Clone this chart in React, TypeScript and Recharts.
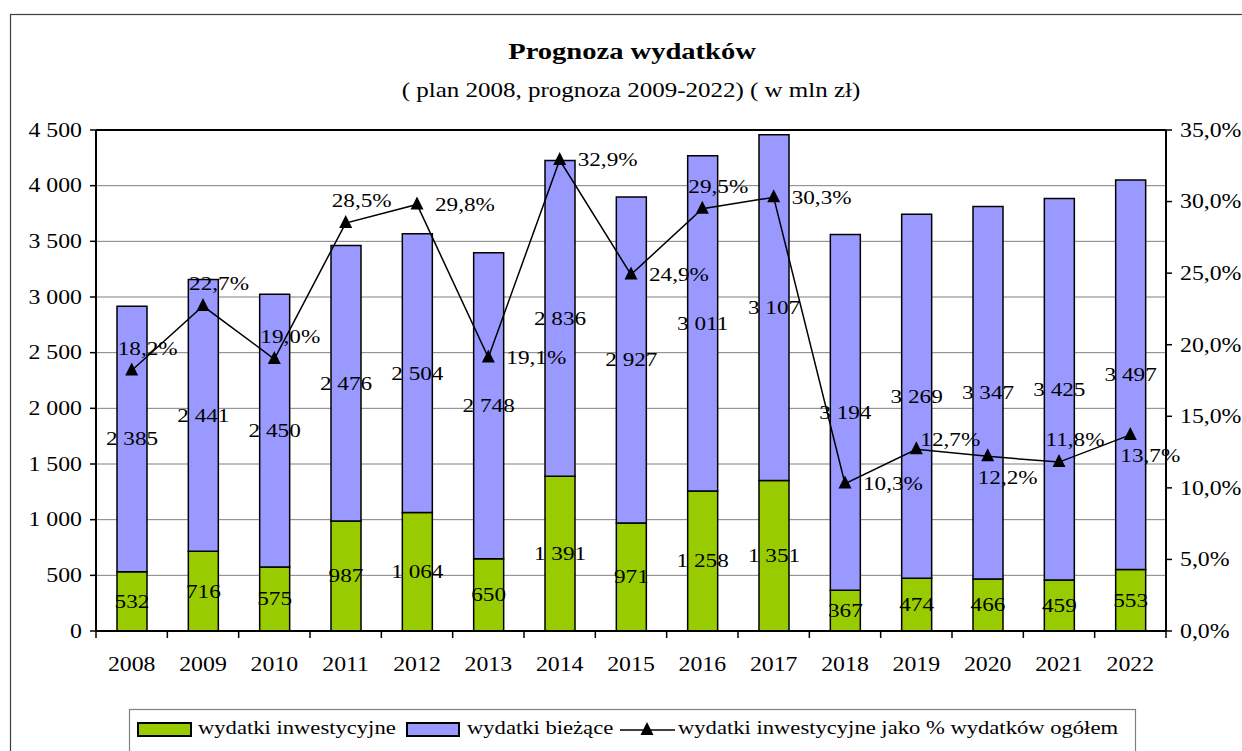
import React from 'react';
import {
  ComposedChart,
  Bar,
  Line,
  XAxis,
  YAxis,
  CartesianGrid,
  LabelList,
  ReferenceLine,
} from 'recharts';

// ---------- data ----------
const years = ['2008', '2009', '2010', '2011', '2012', '2013', '2014', '2015', '2016', '2017', '2018', '2019', '2020', '2021', '2022'];
const investmentSpending = [532, 716, 575, 987, 1064, 650, 1391, 971, 1258, 1351, 367, 474, 466, 459, 553];
const currentSpending = [2385, 2441, 2450, 2476, 2504, 2748, 2836, 2927, 3011, 3107, 3194, 3269, 3347, 3425, 3497];
const investmentShare = [18.2, 22.7, 19.0, 28.5, 29.8, 19.1, 32.9, 24.9, 29.5, 30.3, 10.3, 12.7, 12.2, 11.8, 13.7];
const leftTicks = [0, 500, 1000, 1500, 2000, 2500, 3000, 3500, 4000, 4500];
const rightTicks = [0, 5, 10, 15, 20, 25, 30, 35];
const shareLabelPlacement = ['above', 'above', 'above', 'above', 'right', 'right', 'right', 'right', 'above', 'right', 'right', 'aboveRight', 'below', 'above', 'below'];

const TITLE = 'Prognoza wydatków';
const SUBTITLE = '( plan 2008, prognoza 2009-2022) ( w mln zł)';
const LEGEND_INV = 'wydatki inwestycyjne';
const LEGEND_CUR = 'wydatki bieżące';
const LEGEND_SHARE = 'wydatki inwestycyjne jako % wydatków ogółem';

const data = years.map((year, i) => ({
  year,
  inv: investmentSpending[i],
  cur: currentSpending[i],
  share: investmentShare[i],
}));

// ---------- styles ----------
const FONT = '"Liberation Serif", "Times New Roman", Times, serif';
const SX = 1.19;
const GREEN = '#99CC00';
const BLUE = '#9999FF';
const W = 1242;
const H = 751;
const PLOT_LEFT = 96;
const PLOT_RIGHT = 1166;
const PLOT_BOTTOM = 631;
const HALF_BAND = (PLOT_RIGHT - PLOT_LEFT) / years.length / 2;

const fmtNum = (v: number) => String(Math.round(v)).replace(/\B(?=(\d{3})+(?!\d))/g, ' ');
const fmtPct = (v: number) => v.toFixed(1).replace('.', ',') + '%';

function SText(props: any) {
  const { x, y, anchor = 'middle', size = 20, weight = 'normal', children } = props;
  return (
    <text
      transform={`translate(${x},${y}) scale(${SX},1)`}
      textAnchor={anchor}
      dominantBaseline="central"
      fontFamily={FONT}
      fontSize={size}
      fontWeight={weight}
      fill="#000"
    >
      {children}
    </text>
  );
}

const LeftTick = (props: any) => {
  const { x, y, payload } = props;
  return <SText x={x} y={y} anchor="end">{fmtNum(payload.value)}</SText>;
};

const RightTick = (props: any) => {
  const { x, y, payload } = props;
  return <SText x={x} y={y} anchor="start">{fmtPct(payload.value)}</SText>;
};

const XTick = (props: any) => {
  const { x, payload, index } = props;
  return (
    <g>
      <line x1={x - HALF_BAND} x2={x - HALF_BAND} y1={PLOT_BOTTOM} y2={PLOT_BOTTOM + 7} stroke="#000" strokeWidth={1.5} />
      {index === years.length - 1 && (
        <line x1={x + HALF_BAND} x2={x + HALF_BAND} y1={PLOT_BOTTOM} y2={PLOT_BOTTOM + 7} stroke="#000" strokeWidth={1.5} />
      )}
      <SText x={x} y={PLOT_BOTTOM + 33}>{payload.value}</SText>
    </g>
  );
};

const Triangle = (props: any) => {
  const { cx, cy } = props;
  if (cx == null || cy == null) return null;
  return <polygon points={`${cx},${cy - 8} ${cx - 6.5},${cy + 5} ${cx + 6.5},${cy + 5}`} fill="#000" />;
};

const BarValueLabel = (props: any) => {
  const { x, y, width, height, value } = props;
  return <SText x={x + width / 2} y={y + height / 2} size={19.5}>{fmtNum(value)}</SText>;
};

const ShareLabel = (props: any) => {
  const { x, y, value, index } = props;
  const place = shareLabelPlacement[index];
  let dx = 16, dy = -22, anchor = 'middle';
  if (place === 'right') { dx = 18; dy = 0; anchor = 'start'; }
  else if (place === 'aboveRight') { dx = 4; dy = -10; anchor = 'start'; }
  else if (place === 'below') { dx = 20; dy = 21; anchor = 'middle'; }
  return <SText x={x + dx} y={y + dy} anchor={anchor} size={19.5}>{fmtPct(value)}</SText>;
};

export default function App() {
  return (
    <div style={{ position: 'absolute', left: 0, top: 0, width: W, height: H, background: '#fff', overflow: 'hidden' }}>
      <ComposedChart
        width={W}
        height={H}
        data={data}
        margin={{ top: 130, right: 0, bottom: 0, left: 10 }}
        barSize={30}
      >
        <CartesianGrid horizontal vertical={false} stroke="#808080" strokeWidth={1} yAxisId="left" />
        <XAxis
          dataKey="year"
          height={120}
          tick={<XTick />}
          tickLine={false}
          axisLine={{ stroke: '#000', strokeWidth: 2 }}
          interval={0}
        />
        <YAxis
          yAxisId="left"
          orientation="left"
          width={86}
          domain={[0, 4500]}
          ticks={leftTicks}
          interval={0}
          tick={<LeftTick />}
          tickSize={6}
          tickMargin={8}
          tickLine={{ stroke: '#000', strokeWidth: 1.5 }}
          axisLine={{ stroke: '#000', strokeWidth: 2 }}
        />
        <YAxis
          yAxisId="right"
          orientation="right"
          width={76}
          domain={[0, 35]}
          ticks={rightTicks}
          interval={0}
          tick={<RightTick />}
          tickSize={6}
          tickMargin={8}
          tickLine={{ stroke: '#000', strokeWidth: 1.5 }}
          axisLine={{ stroke: '#000', strokeWidth: 2 }}
        />
        <ReferenceLine yAxisId="left" y={4500} stroke="#000" strokeWidth={2} />
        <Bar yAxisId="left" dataKey="inv" stackId="s" fill={GREEN} stroke="#000" strokeWidth={1.5} isAnimationActive={false}>
          <LabelList dataKey="inv" content={<BarValueLabel />} />
        </Bar>
        <Bar yAxisId="left" dataKey="cur" stackId="s" fill={BLUE} stroke="#000" strokeWidth={1.5} isAnimationActive={false}>
          <LabelList dataKey="cur" content={<BarValueLabel />} />
        </Bar>
        <Line
          yAxisId="right"
          dataKey="share"
          type="linear"
          stroke="#000"
          strokeWidth={1.5}
          dot={<Triangle />}
          activeDot={false}
          isAnimationActive={false}
        >
          <LabelList dataKey="share" content={<ShareLabel />} />
        </Line>
      </ComposedChart>

      <svg width={W} height={H} style={{ position: 'absolute', left: 0, top: 0, pointerEvents: 'none' }}>
        <rect x={10.5} y={14.5} width={1240} height={745} fill="none" stroke="#404040" strokeWidth={1.2} />
        <SText x={632} y={51} size={24} weight="bold">{TITLE}</SText>
        <SText x={631} y={90} size={21}>{SUBTITLE}</SText>

        <rect x={129.5} y={709.5} width={1006} height={70} fill="none" stroke="#808080" strokeWidth={1.2} />
        <rect x={138} y={723} width={53} height={13} fill={GREEN} stroke="#000" strokeWidth={2} />
        <SText x={198} y={728} anchor="start" size={19}>{LEGEND_INV}</SText>
        <rect x={407} y={723} width={52} height={13} fill={BLUE} stroke="#000" strokeWidth={2} />
        <SText x={467} y={728} anchor="start" size={19}>{LEGEND_CUR}</SText>
        <line x1={620} x2={675} y1={730} y2={730} stroke="#000" strokeWidth={1.5} />
        <polygon points="647,722 640.5,735 653.5,735" fill="#000" />
        <SText x={678} y={728} anchor="start" size={19}>{LEGEND_SHARE}</SText>
      </svg>
    </div>
  );
}
